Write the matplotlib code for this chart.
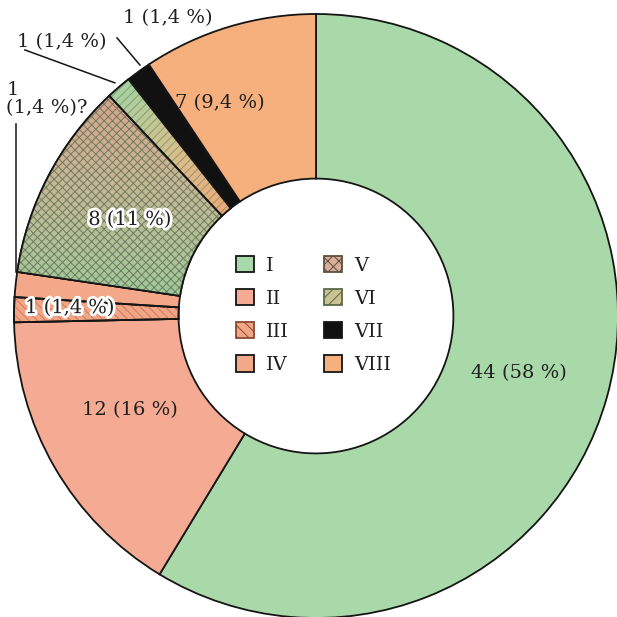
import numpy as np
import matplotlib.pyplot as plt
import matplotlib.patheffects as pe
from matplotlib.patches import Wedge, Patch
from matplotlib.colors import LinearSegmentedColormap

# categories and counts (clockwise from 12 o'clock)
categories = ['I', 'II', 'III', 'IV', 'V', 'VI', 'VII', 'VIII']
counts = [44, 12, 1, 1, 8, 1, 1, 7]
count_labels = ['44 (58 %)', '12 (16 %)', '1 (1,4 %)', '1\n(1,4 %)?',
                '8 (11 %)', '1 (1,4 %)', '1 (1,4 %)', '7 (9,4 %)']
colors = ['#a9d9a9', '#f4aa93', '#f2a688', '#f3a88a',
          '#c9b898', '#b5d09c', '#111111', '#f6b07e']

plt.rcParams['font.family'] = ['DejaVu Serif']
plt.rcParams['hatch.linewidth'] = 0.7
txt = '#1f1f1f'

fig = plt.figure(figsize=(6.17, 6.17), dpi=100)
ax = fig.add_axes([0, 0, 1, 1])

inner = 0.455
wedges, _ = ax.pie(counts, colors=colors, startangle=90, counterclock=False,
                   radius=1, wedgeprops=dict(width=1 - inner, edgecolor='#151515',
                                             linewidth=1.3))
ax.set_xlim(-316 / 302, 301 / 302)
ax.set_ylim(-301 / 302, 316 / 302)
ax.set_aspect('equal')
ax.axis('off')


def overlay(w, hatch=None, hcolor='k', cmap=None, mode='y'):
    """gradient fill and/or hatch on top of a pie wedge"""
    if cmap is not None:
        gx, gy = np.meshgrid(np.linspace(-1.05, 1.05, 300), np.linspace(-1.05, 1.05, 300))
        if mode == 'y':
            t = np.clip((0.8 - gy) / 0.75, 0, 1)
        else:
            t = np.clip((np.hypot(gx, gy) - inner) / (1 - inner), 0, 1)
        im = ax.imshow(t, extent=[-1.05, 1.05, -1.05, 1.05], origin='lower',
                       cmap=cmap, vmin=0, vmax=1, zorder=1.5)
        im.set_clip_path(w)
    if hatch:
        h = Wedge(w.center, w.r, w.theta1, w.theta2, width=w.width,
                  facecolor='none', edgecolor=hcolor, linewidth=0, hatch=hatch, zorder=1.6)
        ax.add_patch(h)
    o = Wedge(w.center, w.r, w.theta1, w.theta2, width=w.width,
              facecolor='none', edgecolor='#151515', linewidth=1.3, zorder=2)
    ax.add_patch(o)


overlay(wedges[2], hatch='\\\\\\\\', hcolor='#d07a55')
cm_v = LinearSegmentedColormap.from_list('v', ['#dda08a', '#c6b894', '#9dcb9b'])
overlay(wedges[4], hatch='xxxx', hcolor='#6f7c62', cmap=cm_v, mode='y')
cm_vi = LinearSegmentedColormap.from_list('vi', ['#f4a878', '#d8c08c', '#a3d4a3'])
overlay(wedges[5], hatch='////', hcolor='#8a9a70', cmap=cm_vi, mode='r')

stroke = [pe.withStroke(linewidth=4, foreground='white')]
kw = dict(ha='center', va='center', fontsize=14, color=txt)
ax.text(0.672, -0.189, count_labels[0], **kw)
ax.text(-0.616, -0.311, count_labels[1], **kw)
ax.text(-0.815, 0.026, count_labels[2], path_effects=stroke, **kw)
ax.text(-0.616, 0.318, count_labels[4], path_effects=stroke, **kw)
ax.text(-0.318, 0.705, count_labels[7], **kw)

# outside labels with leader lines
ax.text(-0.49, 0.985, count_labels[6], **kw)
ax.plot([-0.659, -0.583], [0.921, 0.831], color='#151515', lw=1.1)
ax.text(-0.841, 0.907, count_labels[5], **kw)
ax.plot([-0.964, -0.666], [0.881, 0.772], color='#151515', lw=1.1)
ax.text(-1.025, 0.66, count_labels[3], ha='left', va='bottom', fontsize=14,
        color=txt, linespacing=0.95)
ax.plot([-0.993, -0.993], [0.636, 0.146], color='#151515', lw=1.1)

# legend in the hole
handles = [
    Patch(facecolor=colors[0], edgecolor='#151515'),
    Patch(facecolor=colors[1], edgecolor='#151515'),
    Patch(facecolor=colors[2], edgecolor='#8a4a30', hatch='\\\\\\'),
    Patch(facecolor=colors[3], edgecolor='#151515'),
    Patch(facecolor='#d8ae98', edgecolor='#5a5040', hatch='xxx'),
    Patch(facecolor='#c9c292', edgecolor='#5a6a48', hatch='///'),
    Patch(facecolor=colors[6], edgecolor='#151515'),
    Patch(facecolor=colors[7], edgecolor='#151515'),
]
leg = ax.legend(handles, categories, ncol=2, loc='center',
                bbox_to_anchor=(0.508, 0.490), frameon=False, fontsize=14,
                handlelength=0.95, handleheight=0.95, handletextpad=0.6,
                labelspacing=0.72, columnspacing=1.8, labelcolor=txt)
for h in leg.legend_handles:
    h.set_linewidth(1.3)

fig.savefig('out.png', dpi=100, facecolor='white')
